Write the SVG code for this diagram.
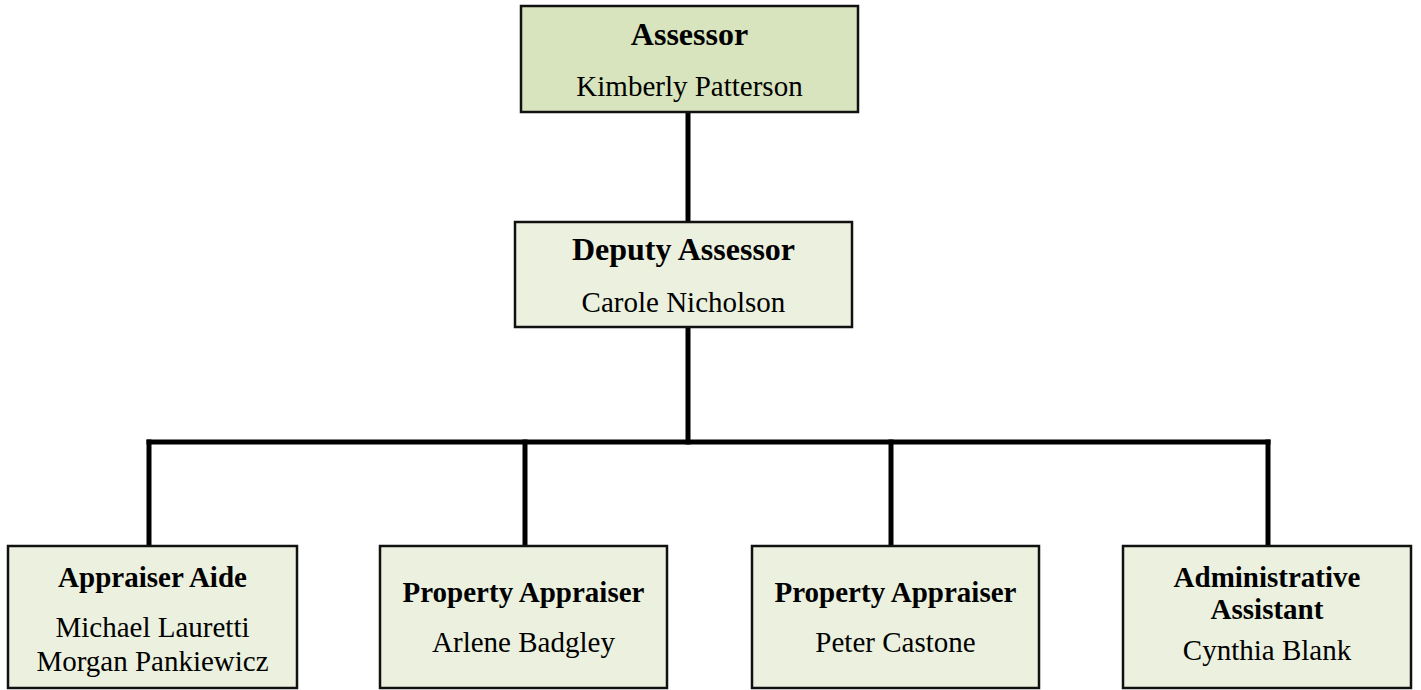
<svg xmlns="http://www.w3.org/2000/svg" width="1421" height="690" viewBox="0 0 1421 690">
<style>
.box{fill:#ebf1de;stroke:#111;stroke-width:2.5}
.top{fill:#d7e4bd}
.t{font-family:"Liberation Serif","Times New Roman",serif;fill:#000;text-anchor:middle}
.b{font-weight:bold;font-size:29px}
.bl{font-weight:bold;font-size:32px}
.r{font-size:29px}
.conn{stroke:#000;stroke-width:5;fill:none;stroke-linecap:square}
</style>
<rect width="1421" height="690" fill="#fff"/>
<g id="connectors">
<line class="conn" x1="688" y1="113" x2="688" y2="221"/>
<line class="conn" x1="688" y1="328" x2="688" y2="442"/>
<line class="conn" x1="149" y1="442" x2="1268" y2="442"/>
<line class="conn" x1="149" y1="442" x2="149" y2="545"/>
<line class="conn" x1="525" y1="442" x2="525" y2="545"/>
<line class="conn" x1="891" y1="442" x2="891" y2="545"/>
<line class="conn" x1="1268" y1="442" x2="1268" y2="545"/>
</g>
<g id="assessor">
<rect class="box top" x="521" y="6" width="337" height="106"/>
<text class="t bl" x="689.5" y="45">Assessor</text>
<text class="t r" x="689.5" y="96">Kimberly Patterson</text>
</g>
<g id="deputy">
<rect class="box" x="515" y="222" width="337" height="105"/>
<text class="t bl" x="683.5" y="260">Deputy Assessor</text>
<text class="t r" x="683.5" y="312">Carole Nicholson</text>
</g>
<g id="aide">
<rect class="box" x="8" y="546" width="289" height="142"/>
<text class="t b" x="152.5" y="587">Appraiser Aide</text>
<text class="t r" x="152.5" y="637">Michael Lauretti</text>
<text class="t r" x="152.5" y="671">Morgan Pankiewicz</text>
</g>
<g id="appraiser1">
<rect class="box" x="380" y="546" width="287" height="142"/>
<text class="t b" x="523.5" y="602">Property Appraiser</text>
<text class="t r" x="523.5" y="652">Arlene Badgley</text>
</g>
<g id="appraiser2">
<rect class="box" x="752" y="546" width="287" height="142"/>
<text class="t b" x="895.5" y="602">Property Appraiser</text>
<text class="t r" x="895.5" y="652">Peter Castone</text>
</g>
<g id="admin">
<rect class="box" x="1123" y="546" width="288" height="142"/>
<text class="t b" x="1267" y="587">Administrative</text>
<text class="t b" x="1267" y="619">Assistant</text>
<text class="t r" x="1267" y="660">Cynthia Blank</text>
</g>
</svg>
